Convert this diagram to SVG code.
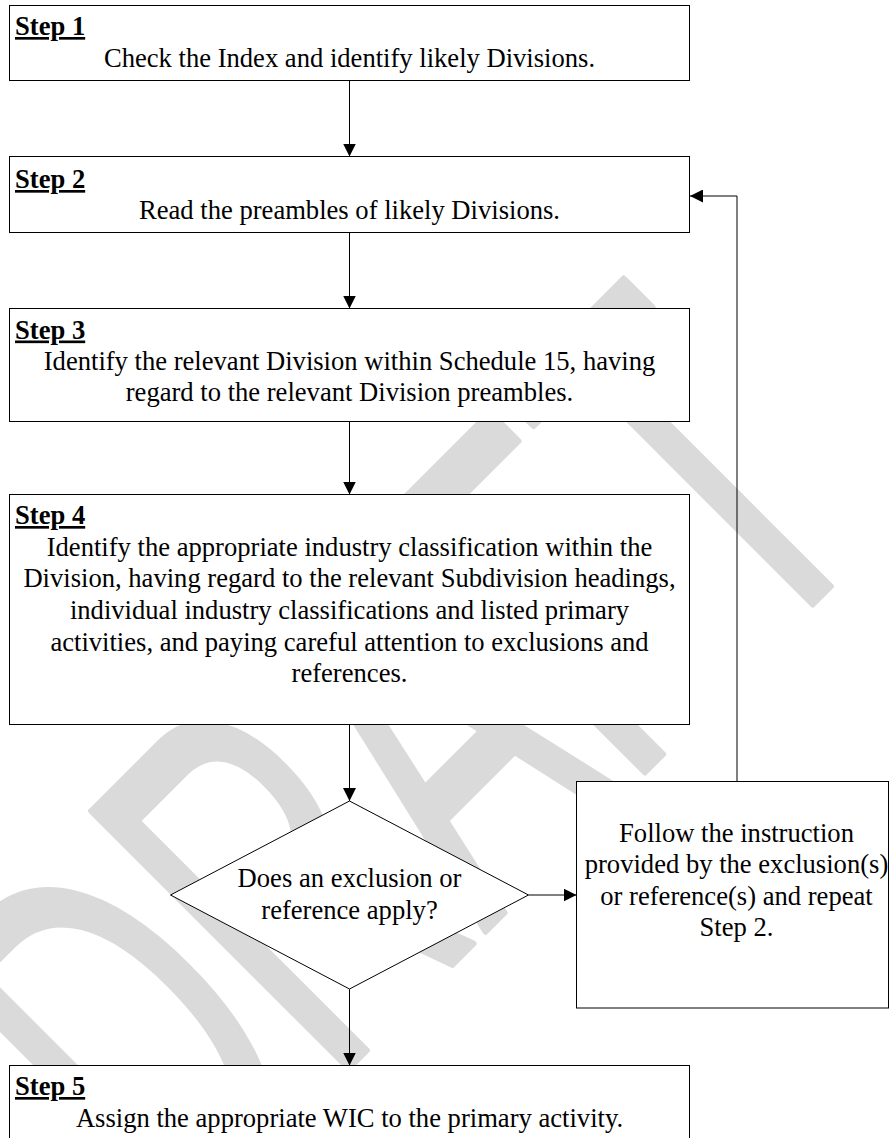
<svg xmlns="http://www.w3.org/2000/svg" width="890" height="1138" viewBox="0 0 890 1138">
  <defs>
    <marker id="arrow" markerUnits="userSpaceOnUse" markerWidth="13" markerHeight="13" refX="13" refY="6.5" orient="auto">
      <path d="M0,0 L13,6.5 L0,13 z" fill="#000"/>
    </marker>
    <style>
      .box { fill: #fff; stroke: #000; stroke-width: 1; }
      .conn { fill: none; stroke: #000; stroke-width: 1; marker-end: url(#arrow); }
      .conn-g { fill: none; stroke: #000; stroke-width: 1; marker-end: url(#arrow); }
      .step { font-family: "Liberation Serif", "Times New Roman", serif; font-size: 26.6px; font-weight: bold; text-decoration: underline; fill: #000; }
      .txt { font-family: "Liberation Serif", "Times New Roman", serif; font-size: 26.6px; fill: #000; text-anchor: middle; }
      .wm { font-family: "Liberation Sans", Arial, sans-serif; font-size: 529px; fill: #dadada; stroke: #dadada; stroke-width: 6; stroke-linejoin: round; }
    </style>
  </defs>
  <rect x="0" y="0" width="890" height="1138" fill="#fff"/>

  <g id="watermark">
    <text class="wm" transform="translate(176.3,1240.8) rotate(-45) scale(0.57,1)" x="0" y="0">DRAFT</text>
  </g>

  <g id="connectors">
    <line class="conn" x1="349.5" y1="80.5" x2="349.5" y2="156.5"/>
    <line class="conn" x1="349.5" y1="232.5" x2="349.5" y2="308.5"/>
    <line class="conn" x1="349.5" y1="421.5" x2="349.5" y2="494.5"/>
    <line class="conn" x1="349.5" y1="724.5" x2="349.5" y2="801"/>
    <line class="conn" x1="349.5" y1="989" x2="349.5" y2="1065.5"/>
    <line class="conn-g" x1="528.5" y1="895" x2="576.5" y2="895"/>
    <path class="conn-g" d="M737,781.5 V196 H690"/>
  </g>

  <g id="step1">
    <rect class="box" x="9.5" y="5.5" width="680" height="75"/>
    <text class="step" x="15" y="35">Step 1</text>
    <text class="txt" x="349.5" y="66.7">Check the Index and identify likely Divisions.</text>
  </g>

  <g id="step2">
    <rect class="box" x="9.5" y="156.5" width="680" height="76"/>
    <text class="step" x="15" y="188">Step 2</text>
    <text class="txt" x="349.5" y="218.5">Read the preambles of likely Divisions.</text>
  </g>

  <g id="step3">
    <rect class="box" x="9.5" y="308.5" width="680" height="113"/>
    <text class="step" x="15" y="338.5">Step 3</text>
    <text class="txt" x="349.5" y="370">Identify the relevant Division within Schedule 15, having</text>
    <text class="txt" x="349.5" y="401">regard to the relevant Division preambles.</text>
  </g>

  <g id="step4">
    <rect class="box" x="9.5" y="494.5" width="680" height="230"/>
    <text class="step" x="15" y="524">Step 4</text>
    <text class="txt" x="349.5" y="555.7">Identify the appropriate industry classification within the</text>
    <text class="txt" x="349.5" y="587.3">Division, having regard to the relevant Subdivision headings,</text>
    <text class="txt" x="349.5" y="619">individual industry classifications and listed primary</text>
    <text class="txt" x="349.5" y="650.7">activities, and paying careful attention to exclusions and</text>
    <text class="txt" x="349.5" y="682">references.</text>
  </g>

  <g id="decision">
    <polygon class="box" points="349.5,801 528.5,895 349.5,989 170.5,895"/>
    <text class="txt" x="349.5" y="887">Does an exclusion or</text>
    <text class="txt" x="349.5" y="919">reference apply?</text>
  </g>

  <g id="follow">
    <rect class="box" x="576.5" y="781.5" width="312" height="226.5"/>
    <text class="txt" x="736.5" y="841.5">Follow the instruction</text>
    <text class="txt" x="736.5" y="873">provided by the exclusion(s)</text>
    <text class="txt" x="736.5" y="904.5">or reference(s) and repeat</text>
    <text class="txt" x="736.5" y="936">Step 2.</text>
  </g>

  <g id="step5">
    <rect class="box" x="9.5" y="1065.5" width="680" height="100"/>
    <text class="step" x="15" y="1095">Step 5</text>
    <text class="txt" x="349.5" y="1127">Assign the appropriate WIC to the primary activity.</text>
  </g>
</svg>
